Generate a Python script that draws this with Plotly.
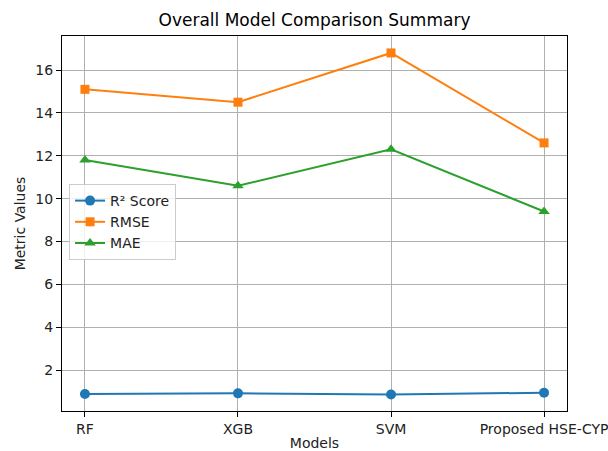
import plotly.graph_objects as go

models = ["RF", "XGB", "SVM", "Proposed HSE-CYP"]
r2_score = [0.88, 0.91, 0.86, 0.94]
rmse = [15.1, 14.5, 16.8, 12.6]
mae = [11.8, 10.6, 12.3, 9.4]

font = "DejaVu Sans"
fig = go.Figure()
fig.add_trace(go.Scatter(x=models, y=r2_score, name="R² Score", mode="lines+markers",
                         line=dict(color="#1f77b4", width=2), marker=dict(symbol="circle", size=10, color="#1f77b4")))
fig.add_trace(go.Scatter(x=models, y=rmse, name="RMSE", mode="lines+markers",
                         line=dict(color="#ff7f0e", width=2), marker=dict(symbol="square", size=9, color="#ff7f0e")))
fig.add_trace(go.Scatter(x=models, y=mae, name="MAE", mode="lines+markers",
                         line=dict(color="#2ca02c", width=2), marker=dict(symbol="triangle-up", size=10, color="#2ca02c")))

fig.update_layout(
    width=608, height=451,
    margin=dict(l=62, r=41, t=36, b=40, autoexpand=False),
    paper_bgcolor="white", plot_bgcolor="white",
    font=dict(family=font, size=14, color="#222222"),
    title=dict(text="Overall Model Comparison Summary", x=0.5, xref="paper", xanchor="center",
               y=1 - 20/451, yanchor="middle",
               font=dict(family=font, size=17, color="black")),
    legend=dict(x=0.014, y=0.504, xanchor="left", yanchor="middle", bgcolor="rgba(255,255,255,0.8)",
                bordercolor="#cccccc", borderwidth=1, font=dict(size=14), tracegroupgap=0),
    showlegend=True,
)
fig.update_xaxes(type="category", range=[-0.15, 3.15], showgrid=True, gridcolor="#b0b0b0", gridwidth=1,
                 showline=True, linecolor="black", linewidth=1, mirror=True, automargin=False,
                 ticks="outside", ticklen=5, tickcolor="black", zeroline=False,
                 title=dict(text="Models", standoff=14, font=dict(size=14)))
fig.update_yaxes(range=[0.087, 17.59], tickvals=[2, 4, 6, 8, 10, 12, 14, 16], showgrid=True, gridcolor="#b0b0b0",
                 gridwidth=1, showline=True, linecolor="black", linewidth=1, mirror=True, automargin=False,
                 ticks="outside", ticklen=5, tickcolor="black", zeroline=False,
                 title=dict(text="Metric Values", standoff=6, font=dict(size=14)))
fig.write_html("out.html", config={"displayModeBar": False},
               post_script="document.body.style.margin='0';document.body.style.overflow='hidden';")
